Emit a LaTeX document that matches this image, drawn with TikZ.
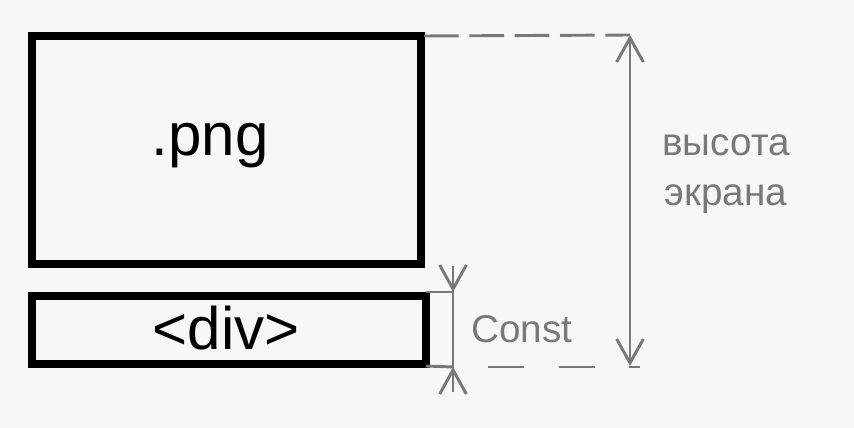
\documentclass[tikz,border=0pt]{standalone}
\usepackage{fontspec}
\setmainfont{Liberation Sans}
\usetikzlibrary{arrows.meta}
\definecolor{dimgray}{RGB}{120,120,120}
\begin{document}
\begin{tikzpicture}[x=0.75pt,y=-0.75pt,
    box/.style={draw=black,line width=6pt,inner sep=0pt,outer sep=0pt},
    dim/.style={draw=dimgray,line width=2.2pt},
    barb/.tip={Straight Barb[length=18pt,width=20pt,line width=2.2pt]},
    label/.style={text=dimgray,font=\fontsize{29}{37}\selectfont}]
    \fill[white!97!black] (0,0) rectangle (854,428);
    \node[box,minimum width=389*0.75pt,minimum height=228*0.75pt] (png) at (226.5,150) {};
    \node at (210,146) {\fontsize{45}{50}\selectfont .png};
    \node[box,minimum width=394*0.75pt,minimum height=68*0.75pt] (div) at (229,330) {};
    \node at (226,328) {\fontsize{45}{50}\selectfont <div>};
    % guide lines
    \coordinate (topend) at (630,35);
    \coordinate (botend) at (640,367);
    \coordinate (divtop) at (453,292);
    \coordinate (divbot) at (453,367);
    \draw[dim,dash pattern=on 26pt off 8pt] (png.north east) ++(3,0) -- (topend);
    \draw[dim,dash pattern=on 27pt off 26pt] (divbot) ++(35,0) -- (botend);
    \draw[dim] (div.north east) ++(0,-4) -- (divtop);
    \draw[dim] (div.south east) ++(0,2) -- (divbot);
    % height arrow
    \draw[dim,barb-barb] (topend) -- (630,366);
    \node[label,align=center] (screen) at (726,174) {высота\\экрана};
    % const arrow
    \draw[dim] (453,266) -- (453,390);
    \draw[dim,-barb] (453,266) -- (divtop);
    \draw[dim,-barb] (453,392) -- (divbot);
    \node[label] (const) at (522,329) {Const};
\end{tikzpicture}
\end{document}
